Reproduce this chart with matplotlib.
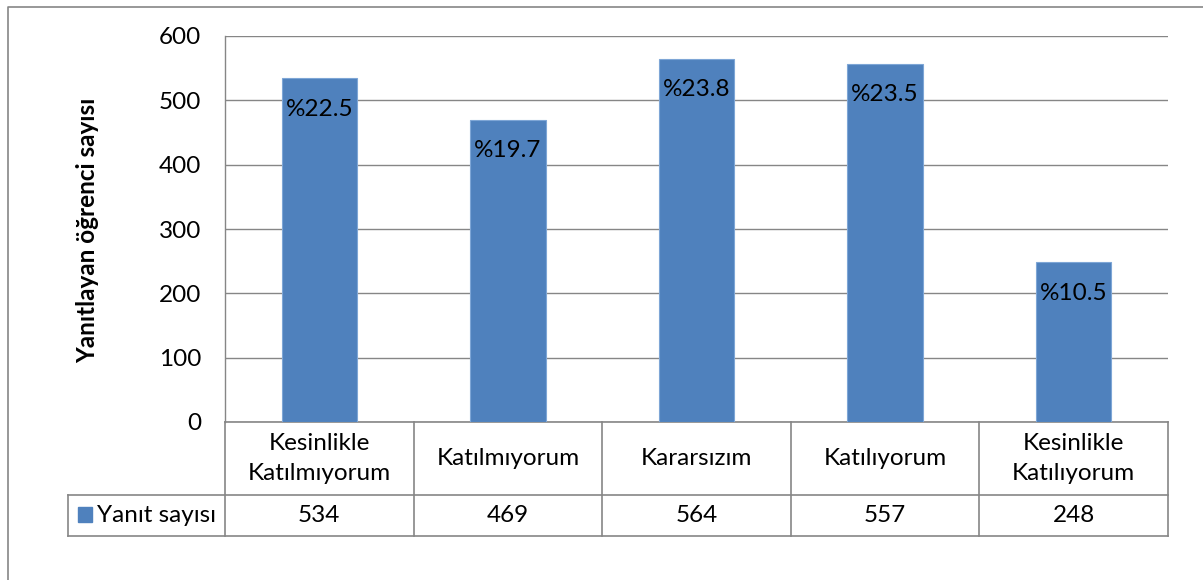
import matplotlib
matplotlib.use("Agg")
import matplotlib.pyplot as plt
from matplotlib.lines import Line2D
from matplotlib.patches import Rectangle
import matplotlib.transforms as mtransforms

categories = ["Kesinlikle\nKatılmıyorum", "Katılmıyorum", "Kararsızım", "Katılıyorum", "Kesinlikle\nKatılıyorum"]
values = [534, 469, 564, 557, 248]
percents = ["%22.5", "%19.7", "%23.8", "%23.5", "%10.5"]
series_name = "Yanıt sayısı"
y_label = "Yanıtlayan öğrenci sayısı"
y_ticks = [0, 100, 200, 300, 400, 500, 600]

plt.rcParams['font.family'] = ['Lato', 'DejaVu Sans']

W, H = 1203, 580
fig = plt.figure(figsize=(W / 100, H / 100), dpi=100)
FS = 17.5

def px(x0, y0, x1, y1):
    return [x0 / W, 1 - y1 / H, (x1 - x0) / W, (y1 - y0) / H]

ax = fig.add_axes(px(225, 36, 1168, 422))
bar_color = "#4F81BD"
grid_color = "#868686"
xs = list(range(len(values)))
ax.bar(xs, values, width=0.4, color=bar_color, edgecolor="#7EA6D6", linewidth=0.8, zorder=3)
ax.set_xlim(-0.5, len(values) - 0.5)
ax.set_ylim(0, 600)
ax.set_yticks(y_ticks)
ax.yaxis.grid(True, color=grid_color, linewidth=1.0, zorder=0)
ax.tick_params(axis='y', length=0, pad=17, labelsize=FS)
ax.set_xticks([])
for s in ["top", "right", "bottom"]:
    ax.spines[s].set_visible(False)
ax.spines["left"].set_color(grid_color)
ax.spines["left"].set_linewidth(1.0)

for x, v, p in zip(xs, values, percents):
    ax.annotate(p, (x, v), xytext=(0, -22), textcoords="offset points",
                ha="center", va="center", fontsize=FS, zorder=4)

# data table below the axes
tr = mtransforms.blended_transform_factory(ax.transData, ax.transAxes)
row1 = (422 - 495) / (422 - 36)
row2 = (422 - 536) / (422 - 36)
label_left = -0.5 - (225 - 68) / ((1168 - 225) / len(values))
lkw = dict(color=grid_color, linewidth=1.2, transform=tr, clip_on=False)
ax.add_line(Line2D([-0.5, len(values) - 0.5], [0, 0], **lkw))
ax.add_line(Line2D([label_left, len(values) - 0.5], [row1, row1], **lkw))
ax.add_line(Line2D([label_left, len(values) - 0.5], [row2, row2], **lkw))
ax.add_line(Line2D([label_left, label_left], [row1, row2], **lkw))
for k in range(len(values) + 1):
    ax.add_line(Line2D([k - 0.5, k - 0.5], [0, row2], **lkw))
for x, c, v in zip(xs, categories, values):
    ax.text(x, row1 / 2, c, transform=tr, ha="center", va="center",
            fontsize=FS, linespacing=1.5, clip_on=False)
    ax.text(x, (row1 + row2) / 2, str(v), transform=tr, ha="center", va="center",
            fontsize=FS, clip_on=False)

# legend key in table
fig.patches.append(Rectangle((78 / W, 1 - 522 / H), 14 / W, 15 / H,
                             transform=fig.transFigure, color=bar_color))
fig.text(97 / W, 1 - 515.5 / H, series_name, ha="left", va="center", fontsize=FS)

# y label
fig.text(88 / W, 1 - 230 / H, y_label, rotation=90, ha="center", va="center",
         fontsize=17.5, fontweight="bold")

# outer chart border
fig.lines.append(Line2D([8 / W, 8 / W, 1.0], [0.0, 1 - 7 / H, 1 - 7 / H],
                        transform=fig.transFigure, color=grid_color, linewidth=1.2))

fig.savefig("out.png", dpi=100)
